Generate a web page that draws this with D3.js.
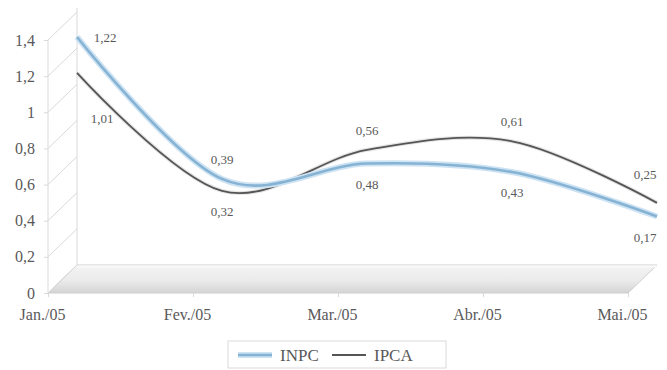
<!DOCTYPE html>
<html>
<head>
<meta charset="utf-8">
<script src="https://cdn.jsdelivr.net/npm/d3@7/dist/d3.min.js"></script>
<style>
  html, body { margin: 0; padding: 0; background: #fff; }
  svg { display: block; }
  svg text { font-family: "Liberation Serif", "DejaVu Serif", serif; }
</style>
</head>
<body>
<svg id="chart" width="667" height="370"></svg>
<script>
// Monthly index values (%)
const months = ["Jan./05", "Fev./05", "Mar./05", "Abr./05", "Mai./05"];
const inpc = [1.22, 0.39, 0.48, 0.43, 0.17];
const ipca = [1.01, 0.32, 0.56, 0.61, 0.25];
const yTicks = [0, 0.2, 0.4, 0.6, 0.8, 1, 1.2, 1.4];
const seriesNames = ["INPC", "IPCA"];
// where each value label sits relative to its point
const inpcLabelPos = ["right", "above", "below", "below", "below"];
const ipcaLabelPos = ["belowRight", "below", "above", "above", "above"];

const svg = d3.select("#chart");
const fmt = v => d3.format(".2f")(v).replace(".", ",");
const tickFmt = v => String(v).replace(".", ",");
const serif = "'Liberation Serif', 'DejaVu Serif', serif";

// 3-D box geometry: front face and back wall offset
const depth = { dx: 29, dy: -28 };
const frontX = d3.scalePoint().domain(months).range([48, 628]);
const frontY = d3.scaleLinear().domain([0, 1.4]).range([293, 40]);
const seriesX = d3.scalePoint().domain(months).range([77, 657]);
const seriesY = d3.scaleLinear().domain([0, 1.4]).range([245.6, 6.2]);

const grid = "#d9d9d9";
const textCol = "#595959";

// floor gradient
const defs = svg.append("defs");
const fg = defs.append("linearGradient").attr("id", "floor").attr("x1", 0).attr("y1", 0).attr("x2", 0).attr("y2", 1);
fg.append("stop").attr("offset", "0%").attr("stop-color", "#f4f4f4");
fg.append("stop").attr("offset", "55%").attr("stop-color", "#ebebeb");
fg.append("stop").attr("offset", "100%").attr("stop-color", "#d4d4d4");

const x0 = frontX.range()[0], x1 = frontX.range()[1];
const yb = frontY(0);
svg.append("path")
  .attr("d", `M${x0},${yb} L${x0 + depth.dx},${yb + depth.dy} L${x1 + depth.dx},${yb + depth.dy} L${x1},${yb} Z`)
  .attr("fill", "url(#floor)")
  .attr("stroke", "#cfcfcf").attr("stroke-width", 1);
svg.append("line")
  .attr("x1", x0 + depth.dx).attr("x2", x1 + depth.dx)
  .attr("y1", yb + depth.dy + 1.5).attr("y2", yb + depth.dy + 1.5)
  .attr("stroke", "#fafafa").attr("stroke-width", 2);

// side wall gridlines (diagonals) and wall edges
svg.selectAll(".diag").data(yTicks).join("line")
  .attr("x1", x0).attr("y1", d => frontY(d))
  .attr("x2", x0 + depth.dx).attr("y2", d => frontY(d) + depth.dy)
  .attr("stroke", grid).attr("stroke-width", 1);
svg.append("line")
  .attr("x1", x0).attr("x2", x0)
  .attr("y1", frontY(1.4)).attr("y2", frontY(0))
  .attr("stroke", grid);
svg.append("line")
  .attr("x1", x0 + depth.dx).attr("x2", x0 + depth.dx)
  .attr("y1", frontY(1.4) + depth.dy - 4).attr("y2", frontY(0) + depth.dy)
  .attr("stroke", grid);

// y axis
const yAxis = d3.axisLeft(frontY).tickValues(yTicks).tickFormat(tickFmt).tickSize(4).tickPadding(9);
const ya = svg.append("g").attr("transform", `translate(${x0},0)`).call(yAxis)
  .attr("font-family", serif).attr("font-size", 16);
ya.select(".domain").remove();
ya.selectAll(".tick line").attr("stroke", grid);
ya.selectAll(".tick text").attr("fill", textCol);

// x axis labels
const xAxis = d3.axisBottom(frontX).tickSize(4).tickPadding(12);
const xa = svg.append("g").attr("transform", `translate(-6,${yb})`).call(xAxis)
  .attr("font-family", serif).attr("font-size", 16);
xa.select(".domain").remove();
xa.selectAll(".tick line").attr("stroke", grid).attr("transform", "translate(6,0)");
xa.selectAll(".tick text").attr("fill", textCol);

// smoothed lines
const line = d3.line()
  .x((d, i) => seriesX(months[i]))
  .y(d => seriesY(d))
  .curve(d3.curveCardinal.tension(0));

svg.append("path").datum(ipca).attr("d", line)
  .attr("fill", "none").attr("stroke", "#e6e6e6").attr("stroke-width", 4);
svg.append("path").datum(ipca).attr("d", line)
  .attr("fill", "none").attr("stroke", "#555").attr("stroke-width", 1.8);

svg.append("path").datum(inpc).attr("d", line)
  .attr("fill", "none").attr("stroke", "#cde3f3").attr("stroke-width", 6);
svg.append("path").datum(inpc).attr("d", line)
  .attr("fill", "none").attr("stroke", "#86b3d3").attr("stroke-width", 2.6);

// value labels
function labels(values, pos) {
  svg.append("g").selectAll("text").data(values).join("text")
    .attr("x", (d, i) => {
      const x = seriesX(months[i]);
      if (pos[i] === "right") return x + 28;
      if (pos[i] === "belowRight") return x + 25;
      if (i === months.length - 1) return x - 12;
      return x;
    })
    .attr("y", (d, i) => {
      const y = seriesY(d);
      if (pos[i] === "right") return y + 5;
      if (pos[i] === "belowRight") return y + 50;
      if (pos[i] === "above") return i === months.length - 1 ? y - 24 : y - 15;
      return y + 25;
    })
    .attr("text-anchor", "middle")
    .attr("fill", textCol)
    .style("font-size", "13px")
    .text(d => fmt(d));
}
labels(inpc, inpcLabelPos);
labels(ipca, ipcaLabelPos);

// legend
const lg = svg.append("g").attr("transform", "translate(228,341)");
lg.append("rect").attr("width", 218).attr("height", 27)
  .attr("fill", "#fff").attr("stroke", "#d9d9d9");
const items = [
  { name: seriesNames[0], x: 10, halo: "#cde3f3", col: "#86b3d3", w: 2.6 },
  { name: seriesNames[1], x: 104, halo: null, col: "#555", w: 1.8 }
];
items.forEach(it => {
  if (it.halo) lg.append("line").attr("x1", it.x).attr("x2", it.x + 34).attr("y1", 14).attr("y2", 14)
    .attr("stroke", it.halo).attr("stroke-width", 6);
  lg.append("line").attr("x1", it.x).attr("x2", it.x + 34).attr("y1", 14).attr("y2", 14)
    .attr("stroke", it.col).attr("stroke-width", it.w);
  lg.append("text").attr("x", it.x + 42).attr("y", 20)
    .attr("fill", textCol).style("font-size", "17px").text(it.name);
});
</script>
</body>
</html>
